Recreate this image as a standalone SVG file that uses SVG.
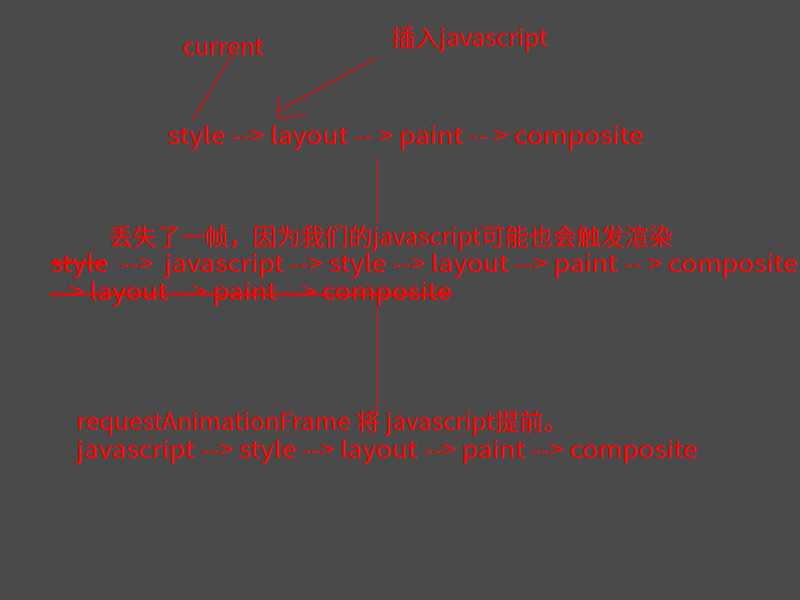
<svg xmlns="http://www.w3.org/2000/svg" width="800" height="600" viewBox="0 0 800 600">
<style>
.t{font-family:"Noto Sans CJK SC","Noto Sans",sans-serif;font-size:23px;fill:#ff0000}
.ln{stroke:#ff0000;stroke-width:1.2;fill:none}
.st{stroke:#ff0000;stroke-width:1.8}
.v{stroke:#f01010;stroke-width:1}
</style>
<rect width="800" height="600" fill="#4a4a4a"/>
<g id="connectors">
<line class="ln" x1="231" y1="56" x2="192" y2="121"/>
<line class="ln" x1="376" y1="58" x2="278" y2="111"/>
<line class="ln" x1="278" y1="97" x2="278" y2="119"/>
<polyline class="ln" points="278,119 284,118 290,116 294,116.5 299,115 306,114"/>
<line class="v" x1="377.5" y1="158" x2="377.5" y2="224"/>
<line class="v" x1="377.5" y1="308" x2="377.5" y2="411"/>
</g>
<g id="current"><text class="t" x="182" y="55" textLength="81" lengthAdjust="spacingAndGlyphs">current</text></g>
<g id="insert-js"><text class="t" x="391" y="46" textLength="156" lengthAdjust="spacingAndGlyphs">插入javascript</text></g>
<g id="pipeline1"><text class="t" x="167" y="144" textLength="476" lengthAdjust="spacingAndGlyphs">style --&gt; layout -- &gt; paint -- &gt; composite</text></g>
<g id="lost-frame">
<text class="t" x="108" y="245" textLength="564" lengthAdjust="spacingAndGlyphs">丢失了一帧，因为我们的javascript可能也会触发渲染</text>
<text class="t" x="50" y="272" textLength="747" lengthAdjust="spacingAndGlyphs" xml:space="preserve">style  --&gt;  javascript --&gt; style --&gt; layout --&gt; paint -- &gt; composite</text>
<line class="st" x1="50" y1="263" x2="103" y2="263"/>
<text class="t" x="50" y="300" textLength="401" lengthAdjust="spacingAndGlyphs">--&gt; layout --&gt; paint --&gt; composite</text>
<line class="st" x1="50" y1="294.5" x2="451" y2="294.5"/>
</g>
<g id="raf">
<text class="t" x="76" y="430" textLength="491" lengthAdjust="spacingAndGlyphs">requestAnimationFrame 将 javascript提前。</text>
<text class="t" x="76" y="458" textLength="621" lengthAdjust="spacingAndGlyphs">javascript --&gt; style --&gt; layout --&gt; paint --&gt; composite</text>
</g>
</svg>
